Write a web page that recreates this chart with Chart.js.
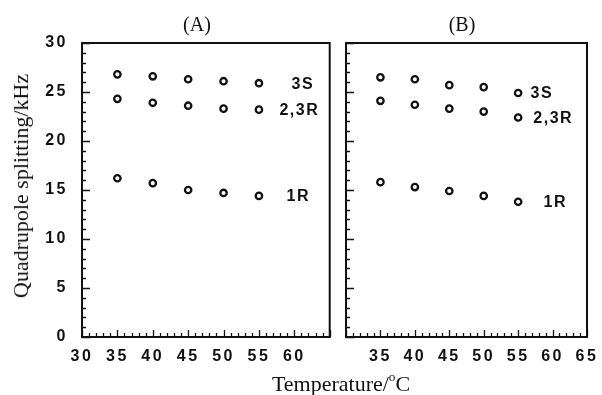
<!DOCTYPE html>
<html>
<head>
<meta charset="utf-8">
<script src="https://cdn.jsdelivr.net/npm/chart.js@4"></script>
<style>
  body { margin: 0; background: #fff; width: 602px; height: 395px; position: relative; overflow: hidden; }
  canvas { position: absolute; top: 0; }
  #chartA { left: 0; }
  #chartB { left: 336px; }
  .t { position: absolute; font-family: "Liberation Serif", serif; color: #111; white-space: nowrap; transform: translate(-50%, -50%); }
  .t sup { font-size: 0.6em; vertical-align: 0.75em; }
</style>
</head>
<body>
<canvas id="chartA" width="336" height="395"></canvas>
<canvas id="chartB" width="266" height="395"></canvas>
<div class="t" style="left:197px; top:24px; font-size:20px;">(A)</div>
<div class="t" style="left:462px; top:24px; font-size:20px;">(B)</div>
<div class="t" style="left:21px; top:186px; font-size:22px; transform: translate(-50%, -50%) rotate(-90deg);">Quadrupole splitting/kHz</div>
<div class="t" style="left:341px; top:383px; font-size:22px;">Temperature/<sup>o</sup>C</div>
<script>
// temperatures (°C)
let temps = [35, 40, 45, 50, 55];

// panel A
let a3S  = [26.8, 26.6, 26.3, 26.1, 25.9];
let a23R = [24.3, 23.9, 23.6, 23.3, 23.2];
let a1R  = [16.2, 15.7, 15.0, 14.7, 14.4];

// panel B
let b3S  = [26.5, 26.3, 25.7, 25.5, 24.9];
let b23R = [24.1, 23.7, 23.3, 23.0, 22.4];
let b1R  = [15.8, 15.3, 14.9, 14.4, 13.8];

let seriesNames = ['3S', '2,3R', '1R'];
let xTicks = [30, 35, 40, 45, 50, 55, 60, 65];
let yTicks = [0, 5, 10, 15, 20, 25, 30];

function pts(ys) {
  return temps.map((t, i) => ({ x: t, y: ys[i] }));
}

let sansFont = '"Liberation Sans", Arial, sans-serif';

// frame + inward minor/major ticks + series labels
let framePlugin = {
  id: 'frame',
  beforeDraw(chart) {
    chart.ctx.letterSpacing = '2.5px';
  },
  afterDraw(chart) {
    let ctx = chart.ctx;
    let a = chart.chartArea;
    let xs = chart.scales.x, ys = chart.scales.y;
    ctx.save();
    ctx.strokeStyle = '#111';
    ctx.lineWidth = 2;
    ctx.strokeRect(a.left, a.top, a.right - a.left, a.bottom - a.top);
    ctx.lineWidth = 1.3;
    ctx.beginPath();
    for (let v = xs.min; v <= xs.max; v++) {
      let px = Math.round(xs.getPixelForValue(v)) + 0.5;
      let len = v % 5 === 0 ? 7 : 4;
      ctx.moveTo(px, a.bottom);
      ctx.lineTo(px, a.bottom - len);
    }
    for (let v = ys.min; v <= ys.max; v++) {
      let py = Math.round(ys.getPixelForValue(v)) + 0.5;
      let len = v % 5 === 0 ? 8 : 4;
      ctx.moveTo(a.left, py);
      ctx.lineTo(a.left + len, py);
    }
    ctx.stroke();

    let opts = chart.options.plugins.frame;
    ctx.fillStyle = '#111';
    ctx.font = 'bold 16px ' + sansFont;
    ctx.letterSpacing = '1.5px';
    ctx.textBaseline = 'middle';
    ctx.textAlign = 'left';
    chart.data.datasets.forEach((ds, i) => {
      let last = ds.data[ds.data.length - 1];
      ctx.fillText(ds.label, xs.getPixelForValue(opts.labelX[i]), ys.getPixelForValue(last.y) + 1);
    });
    ctx.restore();
  }
};

function makeChart(id, sets, labelX, showY, pad) {
  let tickFont = { family: sansFont, size: 16, weight: 'bold' };
  return new Chart(document.getElementById(id).getContext('2d'), {
    type: 'scatter',
    data: {
      datasets: sets.map((ys, i) => ({
        label: seriesNames[i],
        data: pts(ys),
        pointRadius: 3.2,
        pointBorderWidth: 2.3,
        pointBorderColor: '#111',
        pointBackgroundColor: '#fff'
      }))
    },
    options: {
      responsive: false,
      animation: false,
      layout: { padding: pad },
      plugins: {
        legend: { display: false },
        tooltip: { enabled: false },
        frame: { labelX: labelX }
      },
      scales: {
        x: {
          type: 'linear',
          min: 30, max: 65,
          afterFit(s) { s.height = 58; },
          afterBuildTicks(s) { s.ticks = xTicks.map(v => ({ value: v })); },
          grid: { display: false },
          border: { display: false },
          ticks: {
            color: '#111',
            font: tickFont,
            padding: 2,
            callback: v => (showY ? (v === 65 ? '' : v) : (v === 30 ? '' : v))
          }
        },
        y: {
          min: 0, max: 30,
          afterFit(s) { s.width = showY ? 82 : 10; },
          afterBuildTicks(s) { s.ticks = yTicks.map(v => ({ value: v })); },
          grid: { display: false },
          border: { display: false },
          ticks: {
            display: showY,
            color: '#111',
            font: tickFont,
            padding: 6
          }
        }
      }
    },
    plugins: [framePlugin]
  });
}

let chartA = makeChart('chartA', [a3S, a23R, a1R], [59.6, 57.9, 58.9], true,
  { left: 0, right: 5, top: 43, bottom: 0 });
let chartB = makeChart('chartB', [b3S, b23R, b1R], [56.8, 57.2, 58.7], false,
  { left: 0, right: 15, top: 43, bottom: 0 });
</script>
</body>
</html>
